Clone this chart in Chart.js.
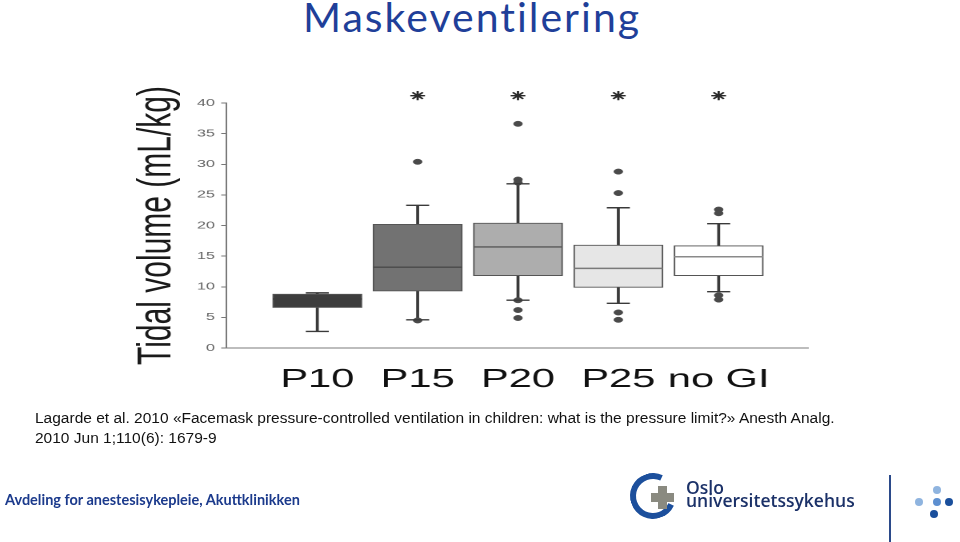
<!DOCTYPE html>
<html>
<head>
<meta charset="utf-8">
<script src="https://cdn.jsdelivr.net/npm/chart.js@4.4.1/dist/chart.umd.min.js"></script>
<style>
    body { margin: 0; width: 960px; height: 542px; position: relative; overflow: hidden; background: #fff; }
    #tittel { position: absolute; left: 303px; top: -3px; font: 41px Lato, sans-serif; letter-spacing: 2px; line-height: 40px; color: #1f3f99; white-space: nowrap; }
    #kilde { position: absolute; left: 35px; top: 408px; font: 15.5px "Liberation Sans", Arial, sans-serif; line-height: 20px; color: #111; white-space: nowrap; }
    #avdeling { position: absolute; left: 5px; top: 491px; font: bold 14.5px Lato, sans-serif; color: #1b3a8c; white-space: nowrap; }
    #figur { position: absolute; left: 0; top: 0; width: 600px; height: 542px; transform: scaleX(1.6); transform-origin: 0 0; }
    .ring { position: absolute; left: 630px; top: 473px; width: 34px; height: 34px; border: 6px solid #1c4f9c; border-right-color: transparent; border-radius: 50%; transform: rotate(-20deg); }
    .kryss1 { position: absolute; left: 658px; top: 486px; width: 9px; height: 23px; background: #8a8a80; }
    .kryss2 { position: absolute; left: 651px; top: 493px; width: 23px; height: 9px; background: #8a8a80; }
    #ous { position: absolute; left: 686px; top: 481px; font: 600 17.5px "Open Sans", sans-serif; line-height: 13px; color: #1b3168; }
    .strek { position: absolute; left: 889px; top: 475px; width: 2px; height: 67px; background: #2b4a8a; }
    .prikk { position: absolute; width: 8px; height: 8px; border-radius: 50%; }
</style>
</head>
<body>
<div id="tittel">Maskeventilering</div>
<div id="figur"><canvas id="grafico" width="600" height="542"></canvas></div>
<div id="kilde">Lagarde et al. 2010 «Facemask pressure-controlled ventilation in children: what is the pressure limit?» Anesth Analg.<br>2010 Jun 1;110(6): 1679-9</div>
<div id="avdeling">Avdeling for anestesisykepleie, Akuttklinikken</div>
<div class="ring"></div><div class="kryss1"></div><div class="kryss2"></div>
<div id="ous">Oslo<br>universitetssykehus</div>
<div class="strek"></div>
<div class="prikk" style="left:933px;top:486px;background:#8fb4df"></div>
<div class="prikk" style="left:915px;top:498px;background:#8fb4df"></div>
<div class="prikk" style="left:933px;top:498px;background:#5d8fd0"></div>
<div class="prikk" style="left:945px;top:498px;background:#1a4f9c"></div>
<div class="prikk" style="left:930px;top:510px;background:#1a4f9c"></div>
<script>
// grupper og verdier lest av figuren (mL/kg)
const kategorier = ['P10', 'P15', 'P20', 'P25', 'no GI'];
const nedreWhisker = [2.7, 4.6, 7.8, 7.3, 9.2];
const kvartil1 = [6.6, 9.3, 11.8, 9.9, 11.8];
const median = [8.0, 13.2, 16.5, 13.0, 14.9];
const kvartil3 = [8.8, 20.2, 20.4, 16.8, 16.7];
const ovreWhisker = [9.0, 23.3, 26.8, 22.9, 20.3];
const uteliggere = [[], [30.4, 4.5], [36.6, 27.5, 27.0, 7.8, 6.2, 4.9], [28.8, 25.3, 5.8, 4.6], [22.6, 22.0, 8.6, 7.9]];
const signifikant = [false, true, true, true, true];
const stjerneNivaa = 41.2;
const yTicks = [0, 5, 10, 15, 20, 25, 30, 35, 40];

const boksFarger = ['#3d3d3d', '#727272', '#adadad', '#e6e6e6', '#ffffff'];
const medianFarger = ['#3d3d3d', '#4a4a4a', '#5a5a5a', '#7a7a7a', '#8a8a8a'];

const pos = i => i + 1;

const bokser = kategorier.map((k, i) => ({ x: pos(i), y: [kvartil1[i], kvartil3[i]] }));
const whiskers = kategorier.map((k, i) => ({ x: pos(i), y: [nedreWhisker[i], ovreWhisker[i]] }));
const medianer = kategorier.map((k, i) => ({ x: pos(i), y: median[i] }));
const endestreker = [];
kategorier.forEach((k, i) => {
    endestreker.push({ x: pos(i), y: nedreWhisker[i] });
    endestreker.push({ x: pos(i), y: ovreWhisker[i] });
});
const punkter = [];
uteliggere.forEach((liste, i) => liste.forEach(v => punkter.push({ x: pos(i), y: v })));
const stjerner = [];
signifikant.forEach((s, i) => { if (s) stjerner.push({ x: pos(i), y: stjerneNivaa }); });

const ctx = document.getElementById('grafico').getContext('2d');
new Chart(ctx, {
    type: 'bar',
    data: {
        datasets: [
            {
                type: 'scatter', data: medianer, order: 1,
                pointStyle: 'line', pointRadius: 27.8, pointBorderWidth: 1.4,
                pointBorderColor: medianFarger
            },
            {
                type: 'scatter', data: endestreker, order: 1,
                pointStyle: 'line', pointRadius: 7.2, pointBorderWidth: 1.4,
                pointBorderColor: '#3a3a3a'
            },
            {
                type: 'scatter', data: punkter, order: 1,
                pointRadius: 2.7, pointBackgroundColor: '#4a4a4a', pointBorderColor: '#4a4a4a', pointBorderWidth: 0.5
            },
            {
                // stjernene ligger over 40, så hoverRadius gir plass utenfor plottflaten
                type: 'scatter', data: stjerner, order: 1, clip: false,
                pointStyle: 'star', pointRadius: 4.6, pointHoverRadius: 14,
                pointBorderWidth: 1.4, pointBorderColor: '#2a2a2a'
            },
            {
                data: bokser, order: 2, grouped: false,
                barThickness: 55.6,
                backgroundColor: boksFarger,
                borderColor: '#555555', borderWidth: 1, borderSkipped: false
            },
            {
                data: whiskers, order: 3, grouped: false,
                barThickness: 1.2,
                backgroundColor: '#3a3a3a', borderWidth: 0
            }
        ]
    },
    options: {
        responsive: false,
        devicePixelRatio: 2,
        animation: false,
        layout: { padding: { left: 80, right: 95, top: 103, bottom: 134 } },
        plugins: { legend: { display: false }, tooltip: { enabled: false } },
        scales: {
            x: {
                type: 'linear', min: 0.09, max: 5.89, offset: false,
                afterBuildTicks: s => { s.ticks = kategorier.map((k, i) => ({ value: pos(i) })); },
                afterFit: s => { s.height = 60; },
                grid: { display: false, drawTicks: false, offset: false },
                border: { display: true, color: '#7a7a7a', width: 1 },
                ticks: {
                    autoSkip: false, maxRotation: 0, padding: 16,
                    color: '#111',
                    font: { family: 'Liberation Sans', size: 26 },
                    callback: v => kategorier[v - 1]
                }
            },
            y: {
                min: 0, max: 40,
                afterBuildTicks: s => { s.ticks = yTicks.map(v => ({ value: v })); },
                afterFit: s => { s.width = 61.25; },
                grid: { display: true, drawOnChartArea: false, drawTicks: true, tickLength: 3, color: '#777' },
                border: { display: true, color: '#7a7a7a', width: 1 },
                ticks: {
                    padding: 4, color: '#666',
                    font: { family: 'Liberation Sans', size: 10 }
                },
                title: {
                    display: true, text: 'Tidal volume (mL/kg)',
                    color: '#1a1a1a', padding: { top: 0, bottom: 0 },
                    font: { family: 'Liberation Sans', size: 30 }
                }
            }
        }
    }
});
</script>
</body>
</html>
